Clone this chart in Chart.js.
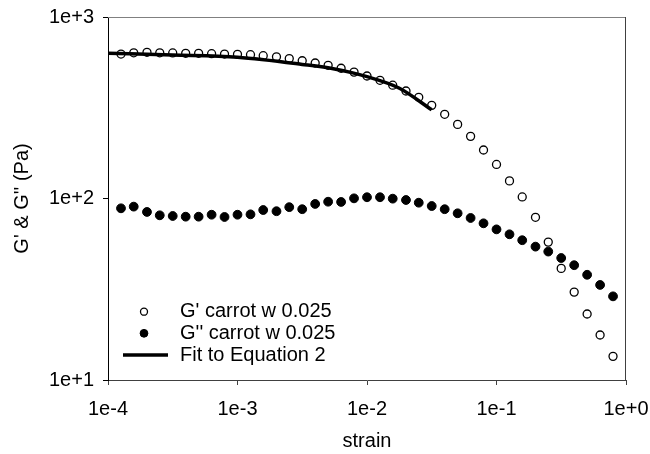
<!DOCTYPE html>
<html>
<head>
<meta charset="utf-8">
<script src="https://cdn.jsdelivr.net/npm/chart.js@4.4.1/dist/chart.umd.min.js"></script>
<style>
  html, body { margin: 0; padding: 0; background: #fff; }
  #wrap { width: 650px; height: 454px; }
</style>
</head>
<body>
<div id="wrap"><canvas id="chart" width="650" height="454"></canvas></div>
<script>
// strain amplitude of each measured point
const strain = [
  1.26e-4, 1.58e-4, 2.00e-4, 2.51e-4, 3.16e-4, 3.98e-4, 5.01e-4, 6.31e-4, 7.94e-4,
  1.00e-3, 1.26e-3, 1.58e-3, 2.00e-3, 2.51e-3, 3.16e-3, 3.98e-3, 5.01e-3, 6.31e-3, 7.94e-3,
  1.00e-2, 1.26e-2, 1.58e-2, 2.00e-2, 2.51e-2, 3.16e-2, 3.98e-2, 5.01e-2, 6.31e-2, 7.94e-2,
  1.00e-1, 1.26e-1, 1.58e-1, 2.00e-1, 2.51e-1, 3.16e-1, 3.98e-1, 5.01e-1, 6.31e-1, 7.94e-1
];
const gPrime = [
  625, 635, 639, 635, 634, 631, 631, 628, 625,
  623, 620, 612, 603, 590, 574, 558, 542, 522, 497,
  473, 448, 421, 391, 361, 326, 291, 256, 220, 185,
  154, 125, 102, 78.8, 57.5, 41.2, 30.5, 23.1, 17.7, 13.5
];
const gDoublePrime = [
  88.3, 90.2, 84.3, 80.8, 80.1, 79.4, 79.4, 81.4, 79.1,
  81.4, 81.8, 86.4, 85.1, 89.6, 87.3, 93.3, 96.0, 95.7, 100.2,
  101.6, 101.6, 99.8, 98.1, 94.8, 90.9, 87.3, 82.9, 78.1, 73.0,
  67.6, 63.5, 58.9, 54.3, 51.0, 47.0, 42.9, 38.0, 33.4, 28.9
];
// model curve
const fitStrain = [1e-4, 3.16e-4, 1e-3, 3.16e-3, 5.62e-3, 1e-2, 1.78e-2, 3.16e-2];
const fitModulus = [631, 617, 600, 548, 517, 469, 405, 308];

const seriesNames = ["G' carrot w 0.025", "G'' carrot w 0.025", "Fit to Equation 2"];
const xTicks = [1e-4, 1e-3, 1e-2, 1e-1, 1];
const xTickLabels = ['1e-4', '1e-3', '1e-2', '1e-1', '1e+0'];
const yTicks = [10, 100, 1000];
const yTickLabels = ['1e+1', '1e+2', '1e+3'];
const xTitle = 'strain';
const yTitle = "G' & G'' (Pa)";

Chart.defaults.font.family = "'Liberation Sans', Arial, sans-serif";
Chart.defaults.color = '#000';

const toPoints = (xs, ys) => xs.map((x, i) => ({x: x, y: ys[i]}));

// frame on top and right of the plot area
const framePlugin = {
  id: 'frame',
  afterDraw(chart) {
    const {ctx, chartArea: a} = chart;
    ctx.save();
    ctx.lineWidth = 1;
    ctx.strokeStyle = '#808080';
    ctx.beginPath();
    ctx.moveTo(a.left, a.top + 0.5);
    ctx.lineTo(a.right, a.top + 0.5);
    ctx.stroke();
    ctx.strokeStyle = '#404040';
    ctx.beginPath();
    ctx.moveTo(a.right - 0.5, a.top);
    ctx.lineTo(a.right - 0.5, a.bottom);
    ctx.stroke();
    ctx.restore();
  }
};

// legend inside the lower left corner of the plot
const insideLegend = {
  id: 'insideLegend',
  afterDraw(chart) {
    const ctx = chart.ctx;
    const rows = [311.7, 333.3, 355];
    ctx.save();
    ctx.font = "20px 'Liberation Sans', Arial, sans-serif";
    ctx.textBaseline = 'middle';
    ctx.fillStyle = '#000';
    chart.data.datasets.forEach((ds, i) => {
      const y = rows[i];
      if (ds.showLine) {
        ctx.strokeStyle = ds.borderColor;
        ctx.lineWidth = ds.borderWidth;
        ctx.beginPath();
        ctx.moveTo(123, y);
        ctx.lineTo(168, y);
        ctx.stroke();
      } else {
        ctx.beginPath();
        ctx.arc(144, y, ds.pointRadius - 0.5, 0, Math.PI * 2);
        ctx.fillStyle = ds.pointBackgroundColor;
        ctx.fill();
        ctx.lineWidth = ds.pointBorderWidth;
        ctx.strokeStyle = ds.pointBorderColor;
        ctx.stroke();
      }
      ctx.fillStyle = '#000';
      ctx.fillText(ds.label, 180, y);
    });
    ctx.restore();
  }
};

new Chart(document.getElementById('chart'), {
  type: 'scatter',
  data: {
    datasets: [
      {
        label: seriesNames[0],
        data: toPoints(strain, gPrime),
        showLine: false,
        pointRadius: 4,
        pointBorderWidth: 1.3,
        pointBackgroundColor: '#fff',
        pointBorderColor: '#000',
        order: 1
      },
      {
        label: seriesNames[1],
        data: toPoints(strain, gDoublePrime),
        showLine: false,
        pointRadius: 4.4,
        pointBorderWidth: 1,
        pointBackgroundColor: '#000',
        pointBorderColor: '#000',
        order: 2
      },
      {
        label: seriesNames[2],
        data: toPoints(fitStrain, fitModulus),
        showLine: true,
        borderColor: '#000',
        borderWidth: 3.5,
        pointRadius: 0,
        tension: 0.4,
        cubicInterpolationMode: 'monotone',
        order: 0
      }
    ]
  },
  options: {
    responsive: false,
    animation: false,
    events: [],
    layout: { padding: { left: 0, top: 17, right: 24, bottom: 0 } },
    plugins: {
      legend: { display: false },
      tooltip: { enabled: false }
    },
    scales: {
      x: {
        type: 'logarithmic',
        min: 1e-4,
        max: 1,
        afterBuildTicks: s => { s.ticks = xTicks.map(v => ({value: v})); },
        afterFit: s => { s.height = 74; s.paddingLeft = 0; s.paddingRight = 0; },
        ticks: {
          callback: (v, i) => xTickLabels[i],
          font: { size: 20 },
          padding: 12,
          maxRotation: 0,
          autoSkip: false
        },
        grid: { drawOnChartArea: false, drawTicks: true, tickLength: 5, tickColor: '#404040' },
        border: { color: '#404040', width: 1 },
        title: { display: true, text: xTitle, font: { size: 20 }, padding: { top: 4, bottom: 1 } }
      },
      y: {
        type: 'logarithmic',
        min: 10,
        max: 1000,
        afterBuildTicks: s => { s.ticks = yTicks.map(v => ({value: v})); },
        afterFit: s => { s.width = 108; s.paddingTop = 0; s.paddingBottom = 0; },
        ticks: {
          callback: (v, i) => yTickLabels[i],
          font: { size: 20 },
          padding: 9,
          autoSkip: false
        },
        grid: { drawOnChartArea: false, drawTicks: true, tickLength: 5, tickColor: '#000' },
        border: { color: '#000', width: 1 },
        title: { display: true, text: yTitle, font: { size: 20 }, padding: { top: 10, bottom: 4 } }
      }
    }
  },
  plugins: [framePlugin, insideLegend]
});
</script>
</body>
</html>
